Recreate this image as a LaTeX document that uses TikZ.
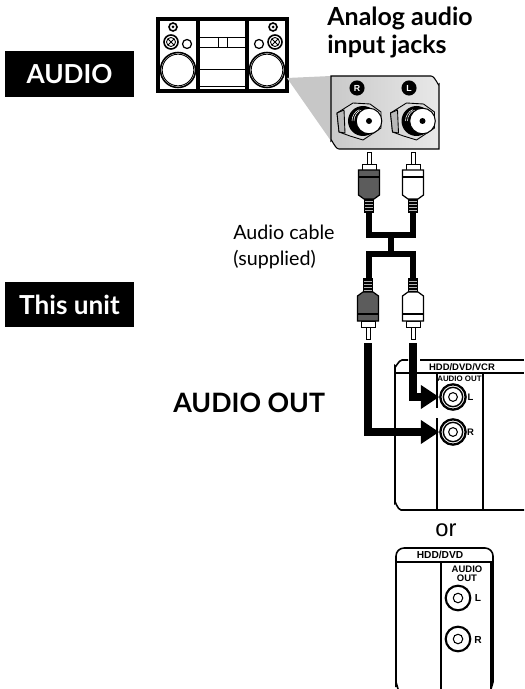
\documentclass[tikz,border=0pt]{standalone}
\usepackage{fontspec}
\setmainfont{Lato}
\newfontfamily\panelfont{Liberation Sans}
\usetikzlibrary{arrows.meta}
\definecolor{plugdark}{gray}{0.36}
\definecolor{panelgray}{gray}{0.78}
\tikzset{
	tag/.style={shape=rectangle, fill=black, text=white, font=\bfseries\fontsize{14.9}{16}\selectfont, minimum width=73.1pt, minimum height=25.8pt, inner sep=0pt},
	heading/.style={anchor=west, align=left, font=\bfseries\fontsize{14.2}{16}\selectfont, inner sep=0pt},
	caption/.style={anchor=west, align=left, font=\fontsize{11.2}{14.8}\selectfont, inner sep=0pt},
	panellabel/.style={font=\panelfont\bfseries\fontsize{5.4}{5.2}\selectfont, inner sep=0pt, align=center},
	jackring/.style={shape=circle, draw, line width=1pt, inner sep=0pt, fill=white},
	cable/.style={line width=2.9pt, line join=miter},
	feed/.style={line width=4.6pt, -{Triangle[length=10.5pt, width=13pt]}},
	thinline/.style={line width=0.5pt},
	boxline/.style={line width=0.9pt}
}
% plug: x, y of the pin end, direction (1 = pin up, -1 = pin down), body colour
\newcommand{\rcaplug}[4]{
	\begin{scope}[shift={(#1,#2)}, yscale=#3]
		\draw[thinline, fill=white] (-2,0) -- (-2,12) -- (2,12) -- (2,0) -- cycle;
		\draw[thinline, fill=white] (-7,12) rectangle (7,18);
		\draw[line width=0.7pt, fill=#4] (-10.5,18) -- (10.5,18) -- (10.5,43) -- (5,47) -- (-5,47) -- (-10.5,43) -- cycle;
		\draw[line width=0.7pt] (-10.5,25) -- (10.5,25);
		\fill[black] (-5,47) rectangle (5,61);
		\foreach \ribY in {49,52,55,58}{
			\draw[white, line width=0.35pt, opacity=0.7] (-4,\ribY) -- (4,\ribY);
		}
	\end{scope}
}
% jack on the audio system: centre x, y
\newcommand{\rearjack}[2]{
	\begin{scope}[shift={(#1,#2)}]
		\draw[thinline, fill=gray!28] (-32,-8) -- (-16,-18) -- (1,-17) -- (12,-9) -- (12,7) -- (-6,19) -- (-19,15) -- (-30,11) -- cycle;
		\draw[thinline, fill=gray!55] (-32,-8) -- (-25,-11) -- (-24,12) -- (-30,11) -- cycle;
		\fill[black] (-6,0) circle (15);
		\draw[white, line width=0.3pt] (-15,0) arc (180:260:9 and 11);
		\draw[white, line width=0.3pt] (-17,0) arc (180:250:11 and 12);
		\draw[line width=0.6pt, fill=white] (0,0) circle (12.8);
		\fill[black] (0,0) circle (3);
	\end{scope}
}
\begin{document}
\begin{tikzpicture}[x=0.02cm, y=-0.02cm]
	\useasboundingbox (0,0) rectangle (524,689);
	% Labels:
	\node[tag] (audiotag) at (69.5,74){AUDIO};
	\node[tag] (unittag) at (69.5,304.5){This unit};
	\node[heading] (jackstitle) at (327,32.5){Analog audio\\input jacks};
	\node[caption] (cablelabel) at (233,246.5){Audio cable\\(supplied)};
	\node[heading, font=\bfseries\fontsize{15.2}{16}\selectfont] (outlabel) at (173,403){AUDIO OUT};
	% Audio system:
	\draw[line width=2pt, fill=white] (158,19) rectangle (287,91);
	\draw[line width=2pt] (198,19) -- (198,91) (247,19) -- (247,91);
	\draw[thinline] (198,37) -- (247,37) (198,47) -- (247,47) (198,69) -- (247,69) (198,86) -- (247,86) (218,37) -- (218,47) (227,37) -- (227,47);
	\foreach \spkX/\tweetX/\screwX/\dotX in {178/171/173/187, 267/275/273/259}{
		\draw[line width=0.9pt] (\spkX,70) circle (17.5);
		\draw[thinline] (\spkX,70) circle (15.8);
		\draw[line width=0.9pt] (\tweetX,42) circle (7);
		\draw[thinline] (\tweetX,42) circle (4.5);
		\draw[thinline] (\tweetX-3,39) -- (\tweetX+3,45) (\tweetX-3,45) -- (\tweetX+3,39);
		\draw[line width=0.9pt] (\screwX,27) circle (4);
		\fill (\screwX,27) circle (1.5);
		\draw[line width=0.7pt] (\dotX,44) circle (4.5);
	}
	% Jack panel and its zoom wedge:
	\fill[panelgray] (287,78) -- (331,76) -- (331,141) -- cycle;
	\draw[line width=0.6pt, left color=gray!42, right color=gray!18] (331,76) -- (431,76) to[out=0, in=-90] (439,84) -- (439,149) -- (339,149) to[out=180, in=90] (331,141) -- cycle;
	\rearjack{369}{121}
	\rearjack{422.5}{121}
	\node[shape=circle, fill=black, text=white, font=\panelfont\bfseries\fontsize{5}{5}\selectfont, minimum size=8.6pt, inner sep=0pt] (badgeR) at (357,88){R};
	\node[shape=circle, fill=black, text=white, font=\panelfont\bfseries\fontsize{5}{5}\selectfont, minimum size=8.6pt, inner sep=0pt] (badgeL) at (409,88){L};
	% Cable:
	\coordinate (topR) at (369,212);
	\coordinate (topL) at (413,212);
	\coordinate (lowR) at (369,279);
	\coordinate (lowL) at (413,279);
	\coordinate (joinT) at (391,235);
	\coordinate (joinB) at (391,254);
	\draw[cable] (topR) |- (joinT) -| (topL);
	\draw[cable] (lowR) |- (joinB) -| (lowL);
	\draw[cable] (joinT) -- (joinB);
	\rcaplug{369}{152}{1}{plugdark}
	\rcaplug{413}{152}{1}{white}
	\rcaplug{368}{339}{-1}{plugdark}
	\rcaplug{413}{339}{-1}{white}
	% Unit panel, HDD/DVD/VCR:
	\draw[boxline] (408,360) -- (402,360) to[out=180, in=-90] (395,366) -- (395,503) to[out=90, in=180] (401,510) -- (524,510);
	\draw[boxline] (420,360) -- (524,360);
	\draw[boxline] (395,373) -- (524,373);
	\draw[boxline] (437,373) -- (437,408) (437,418) -- (437,510);
	\draw[boxline] (483,373) -- (483,510);
	\node[panellabel] (unithead) at (462,367){HDD/DVD/VCR};
	\node[panellabel, font=\panelfont\bfseries\fontsize{4.5}{5}\selectfont] (unitout) at (459.5,378.5){AUDIO OUT};
	\node[jackring, line width=1.3pt, minimum size=14.4pt] (jackL) at (453,397){};
	\node[jackring, line width=0.8pt, minimum size=11pt] (jackLm) at (453,397){};
	\node[jackring, line width=0.6pt, minimum size=5pt] (jackLi) at (453,397){};
	\node[jackring, line width=1.3pt, minimum size=14.4pt] (jackR) at (453,432){};
	\node[jackring, line width=0.8pt, minimum size=11pt] (jackRm) at (453,432){};
	\node[jackring, line width=0.6pt, minimum size=5pt] (jackRi) at (453,432){};
	\node[panellabel] (markL) at (470.5,397){L};
	\node[panellabel] (markR) at (470.5,432){R};
	\coordinate (feedL) at (413,343);
	\coordinate (feedR) at (368,343);
	\draw[feed] (feedL) |- (jackL.west);
	\draw[feed] (feedR) |- (jackR.west);
	% Unit panel, HDD/DVD:
	\node[font=\panelfont\fontsize{13.5}{14}\selectfont, inner sep=0pt] (ortext) at (446,530){or};
	\draw[boxline] (396,687) -- (396,556) to[out=90, in=180] (404,548) -- (485,548) to[out=0, in=90] (493,556) -- (493,682) to[out=-90, in=90] (491,689);
	\draw[boxline] (396,682) to[out=-90, in=90] (398,689);
	\draw[boxline] (396,562) -- (493,562);
	\draw[boxline] (441,562) -- (441,689);
	\draw[boxline] (491,562) -- (491,689);
	\node[panellabel, font=\panelfont\bfseries\fontsize{5.8}{5.8}\selectfont] (dvdhead) at (440,555){HDD/DVD};
	\node[panellabel, font=\panelfont\bfseries\fontsize{5.4}{5.1}\selectfont] (dvdout) at (467,573.5){AUDIO\\OUT};
	\node[jackring, line width=1.2pt, minimum size=14pt] (dvdL) at (458,598){};
	\node[jackring, line width=0.6pt, minimum size=5.4pt] (dvdLi) at (458,598){};
	\node[jackring, line width=1.2pt, minimum size=14pt] (dvdR) at (458,639){};
	\node[jackring, line width=0.6pt, minimum size=5.4pt] (dvdRi) at (458,639){};
	\node[panellabel, font=\panelfont\bfseries\fontsize{5.8}{5.8}\selectfont] (dvdmarkL) at (478,598){L};
	\node[panellabel, font=\panelfont\bfseries\fontsize{5.8}{5.8}\selectfont] (dvdmarkR) at (478,640){R};
\end{tikzpicture}
\end{document}
